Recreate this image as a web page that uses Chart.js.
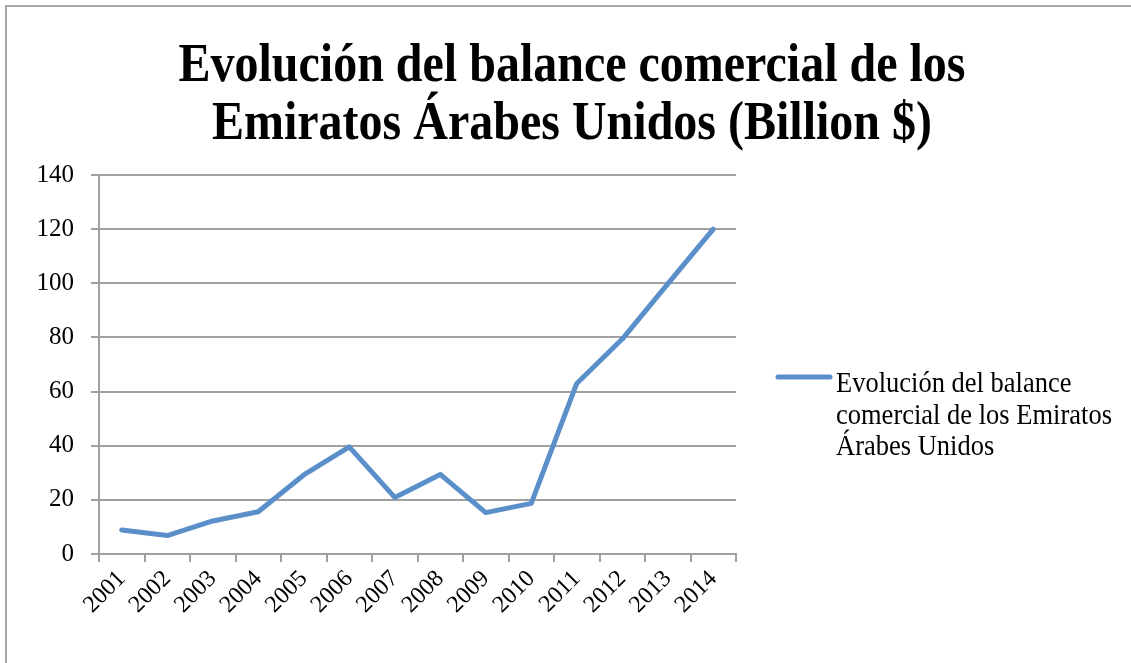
<!DOCTYPE html>
<html>
<head>
<meta charset="utf-8">
<script src="https://cdn.jsdelivr.net/npm/chart.js"></script>
<style>
  html, body { margin: 0; padding: 0; background: #fff; }
  #wrap { position: relative; width: 1131px; height: 663px; }
  #frame {
    position: absolute; left: 5px; top: 5px; right: 0; bottom: 0;
    border-left: 2px solid #a6a6a6; border-top: 2px solid #a6a6a6;
  }
  canvas { position: absolute; left: 0; top: 0; }
</style>
</head>
<body>
<div id="wrap">
  <div id="frame"></div>
  <canvas id="chart" width="1131" height="663"></canvas>
</div>
<script>
// datos del grafico
const years = ["2001", "2002", "2003", "2004", "2005", "2006", "2007",
  "2008", "2009", "2010", "2011", "2012", "2013", "2014"];
const balance = [8.9, 6.8, 12.2, 15.6, 29.2, 39.6, 20.9, 29.4, 15.3, 18.7, 63.0, 79.4, 99.8, 120.0];
const titleLines = ["Evolución del balance comercial de los", "Emiratos Árabes Unidos (Billion $)"];
const seriesName = "Evolución del balance comercial de los Emiratos Árabes Unidos";
const legendLines = ["Evolución del balance", "comercial de los Emiratos", "Árabes Unidos"];

const serif = "'Liberation Serif', 'Times New Roman', serif";
const gridGray = "#a0a0a0";
const lineBlue = "#5b8fca";
const stretch = 1.14; // el texto del original esta algo estirado en vertical

// titulo y leyenda dibujados a mano
const extras = {
  id: "extras",
  afterDraw(chart) {
    const c = chart.ctx;
    const area = chart.chartArea;
    c.save();
    c.fillStyle = "#000";
    c.textAlign = "center";
    c.textBaseline = "alphabetic";
    c.save();
    c.scale(1, stretch);
    c.font = "bold 48px " + serif;
    titleLines.forEach((t, i) => c.fillText(t, 572, (81 + i * 58) / stretch));
    c.restore();

    // leyenda
    const lx = area.right + 42;
    const ly = 377;
    c.strokeStyle = lineBlue;
    c.lineWidth = 5;
    c.lineCap = "round";
    c.beginPath();
    c.moveTo(lx, ly);
    c.lineTo(lx + 52, ly);
    c.stroke();
    c.textAlign = "left";
    c.scale(1, stretch);
    c.font = "26.5px " + serif;
    legendLines.forEach((t, i) => c.fillText(t, lx + 58, (392 + i * 31.5) / stretch));
    c.restore();
  }
};

const ctx = document.getElementById("chart");

new Chart(ctx, {
  type: "line",
  data: {
    labels: years,
    datasets: [
      {
        label: seriesName,
        data: balance,
        borderColor: lineBlue,
        borderWidth: 5,
        borderJoinStyle: "round",
        borderCapStyle: "round",
        pointRadius: 0,
        tension: 0,
        fill: false,
      },
    ],
  },
  options: {
    responsive: false,
    animation: false,
    layout: {
      padding: { top: 175, right: 395, bottom: 0, left: 0 },
    },
    plugins: {
      legend: { display: false },
      title: { display: false },
      tooltip: { enabled: false },
    },
    scales: {
      x: {
        offset: true,
        grid: {
          offset: true,
          drawOnChartArea: false,
          color: gridGray,
          lineWidth: 2,
          tickLength: 8,
        },
        border: { color: gridGray, width: 2 },
        ticks: {
          color: "#000",
          font: { family: serif, size: 24 },
          autoSkip: false,
          minRotation: 45,
          maxRotation: 45,
          padding: 3,
        },
        afterFit: (s) => { s.height = 109; },
      },
      y: {
        min: 0,
        max: 140,
        ticks: {
          stepSize: 20,
          color: "#000",
          font: { family: serif, size: 25 },
          padding: 17,
        },
        grid: {
          color: gridGray,
          lineWidth: 2,
          tickLength: 8,
        },
        border: { color: gridGray, width: 2 },
        afterFit: (s) => { s.width = 99; },
      },
    },
  },
  plugins: [extras],
});
</script>
</body>
</html>
